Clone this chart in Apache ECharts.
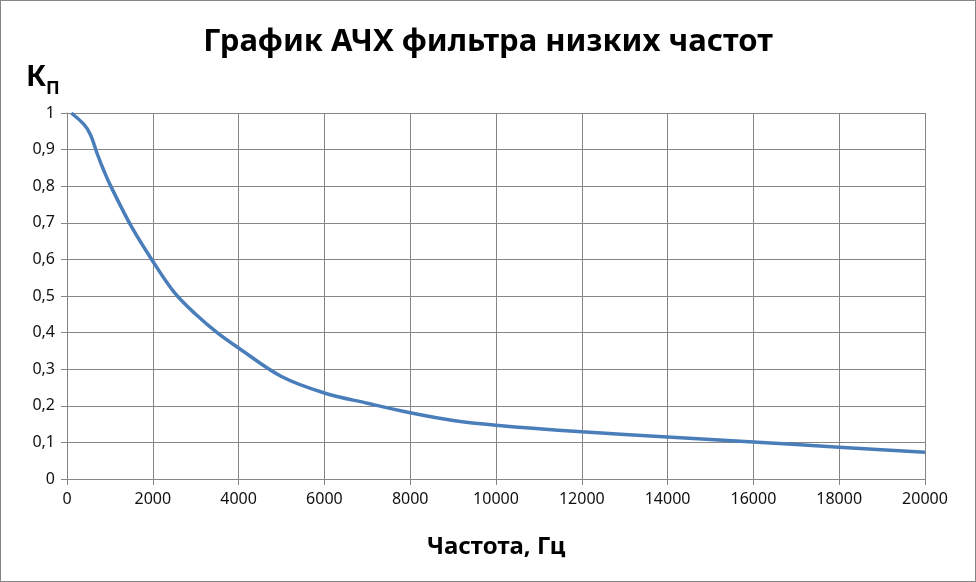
<!DOCTYPE html>
<html>
<head>
<meta charset="utf-8">
<script src="https://cdn.jsdelivr.net/npm/echarts@6/dist/echarts.min.js"></script>
<style>
html,body{margin:0;padding:0;background:#fff;}
#c{width:976px;height:582px;box-sizing:border-box;border:1px solid #868686;}
</style>
</head>
<body>
<div id="c"></div>
<script>
const titleText = 'График АЧХ фильтра низких частот';
const xName = 'Частота, Гц';
const frequency = [100, 400, 550, 700, 850, 1000, 1500, 2000, 2500, 3000, 3500, 4000, 5000, 6000, 7000, 8000, 9000, 10000, 12000, 14000, 16000, 18000, 20000];
const gain = [1.0, 0.968, 0.94, 0.89, 0.845, 0.805, 0.69, 0.595, 0.51, 0.45, 0.40, 0.358, 0.28, 0.235, 0.207, 0.181, 0.16, 0.147, 0.129, 0.115, 0.101, 0.087, 0.073];

const chart = echarts.init(document.getElementById('c'), null, {renderer: 'canvas'});
const font = '"Noto Sans", "Open Sans", sans-serif';
chart.setOption({
  animation: false,
  backgroundColor: '#fff',
  title: {
    text: titleText,
    left: 'center',
    top: 21,
    textStyle: {fontFamily: font, fontWeight: 'bold', fontSize: 31, color: '#000'}
  },
  graphic: [
    {type: 'text', left: 25, top: 62, style: {
      text: '{a|К}{b|П}',
      rich: {
        a: {fontFamily: font, fontWeight: 'bold', fontSize: 29, fill: '#000', verticalAlign: 'bottom'},
        b: {fontFamily: font, fontWeight: 'bold', fontSize: 18, fill: '#000', verticalAlign: 'bottom', padding: [0, 0, -6, 0]}
      }
    }}
  ],
  grid: {left: 66, right: 50, top: 112, bottom: 102, containLabel: false},
  xAxis: {
    type: 'value', min: 0, max: 20000, interval: 2000,
    name: xName, nameLocation: 'middle', nameGap: 56,
    nameTextStyle: {fontFamily: font, fontWeight: 'bold', fontSize: 24, color: '#000'},
    axisLine: {show: true, lineStyle: {color: '#868686', width: 1}},
    axisTick: {show: true, length: 6, lineStyle: {color: '#868686'}},
    axisLabel: {fontFamily: font, fontSize: 16, color: '#111', margin: 12,
      formatter: v => String(v)},
    splitLine: {show: true, lineStyle: {color: '#868686', width: 1}}
  },
  yAxis: {
    type: 'value', min: 0, max: 1, interval: 0.1,
    axisLine: {show: true, lineStyle: {color: '#868686', width: 1}},
    axisTick: {show: true, length: 6, lineStyle: {color: '#868686'}},
    axisLabel: {fontFamily: font, fontSize: 16, color: '#111', margin: 12,
      formatter: v => String(Math.round(v * 10) / 10).replace('.', ',')},
    splitLine: {show: true, lineStyle: {color: '#868686', width: 1}}
  },
  series: [{
    type: 'line',
    data: frequency.map((f, i) => [f, gain[i]]),
    smooth: 0.35,
    showSymbol: false,
    lineStyle: {color: '#4a7ebb', width: 3.5},
    itemStyle: {color: '#4a7ebb'}
  }]
});
</script>
</body>
</html>
